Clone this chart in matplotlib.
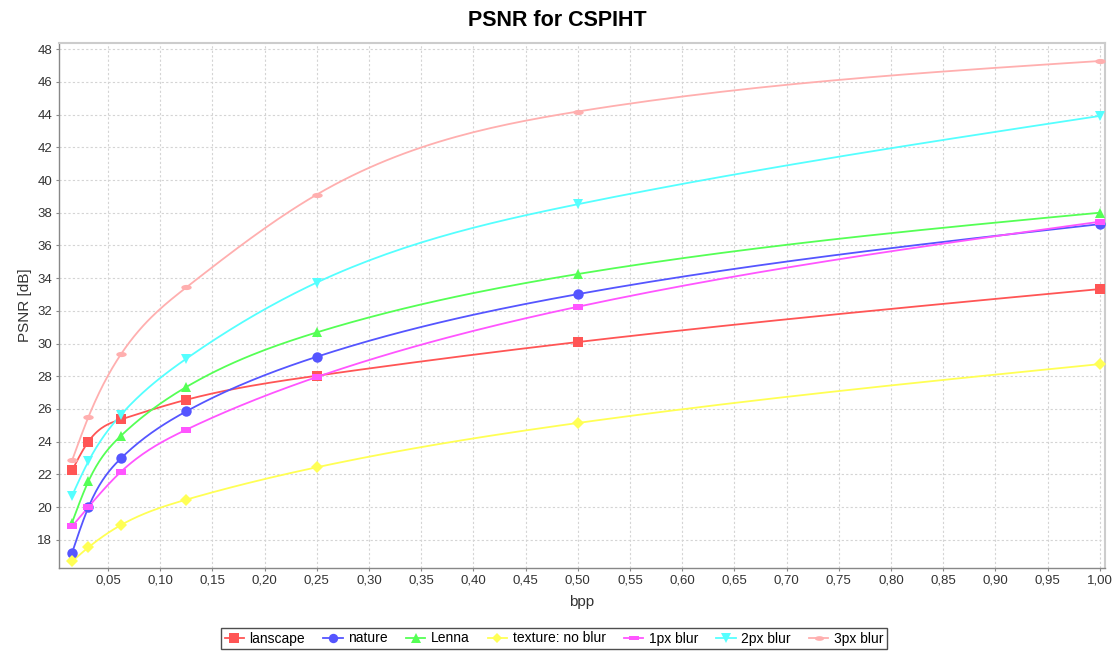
import numpy as np
import matplotlib
matplotlib.use("Agg")
import matplotlib.pyplot as plt
from matplotlib.path import Path

plt.rcParams['font.family'] = ['Liberation Sans', 'DejaVu Sans']

# ---------------- data ----------------
bpp = [0.015625, 0.03125, 0.0625, 0.125, 0.25, 0.5, 1.0]

series_names = ["lanscape", "nature", "Lenna", "texture: no blur", "1px blur", "2px blur", "3px blur"]
lanscape = [22.24, 24.00, 25.36, 26.56, 28.03, 30.09, 33.33]
nature = [17.20, 19.98, 22.98, 25.85, 29.19, 33.02, 37.30]
lenna = [19.05, 21.57, 24.36, 27.34, 30.68, 34.25, 38.00]
texture = [16.68, 17.53, 18.90, 20.45, 22.43, 25.14, 28.74]
blur1 = [18.82, 20.00, 22.16, 24.73, 27.95, 32.25, 37.45]
blur2 = [20.70, 22.79, 25.65, 29.07, 33.73, 38.52, 43.92]
blur3 = [22.85, 25.50, 29.35, 33.43, 39.11, 44.19, 47.28]
series_values = [lanscape, nature, lenna, texture, blur1, blur2, blur3]

x_ticks = [0.05, 0.10, 0.15, 0.20, 0.25, 0.30, 0.35, 0.40, 0.45, 0.50,
           0.55, 0.60, 0.65, 0.70, 0.75, 0.80, 0.85, 0.90, 0.95, 1.00]
x_tick_labels = ["0,05", "0,10", "0,15", "0,20", "0,25", "0,30", "0,35", "0,40", "0,45", "0,50",
                 "0,55", "0,60", "0,65", "0,70", "0,75", "0,80", "0,85", "0,90", "0,95", "1,00"]
y_ticks = [18, 20, 22, 24, 26, 28, 30, 32, 34, 36, 38, 40, 42, 44, 46, 48]
y_tick_labels = [str(v) for v in y_ticks]

colors = ["#FF5555", "#5555FF", "#55FF55", "#FFFF55", "#FF55FF", "#55FFFF", "#FFAFAF"]

# marker shapes (JFreeChart default shape sequence)
rect_marker = Path([(-1, -0.5), (1, -0.5), (1, 0.5), (-1, 0.5), (-1, -0.5)],
                   [Path.MOVETO, Path.LINETO, Path.LINETO, Path.LINETO, Path.CLOSEPOLY])
_t = np.linspace(0, 2 * np.pi, 40)
ellipse_marker = Path(np.column_stack([np.cos(_t), 0.5 * np.sin(_t)]))
markers = ["s", "o", "^", "D", rect_marker, "v", ellipse_marker]
marker_sizes = [7.5, 7.5, 7.5, 6.0, 7.5, 7.5, 7.5]


def natural_spline(x, y, per_seg=30):
    x = np.asarray(x, float)
    y = np.asarray(y, float)
    n = len(x)
    h = np.diff(x)
    A = np.zeros((n, n))
    b = np.zeros(n)
    A[0, 0] = 1
    A[-1, -1] = 1
    for i in range(1, n - 1):
        A[i, i - 1] = h[i - 1]
        A[i, i] = 2 * (h[i - 1] + h[i])
        A[i, i + 1] = h[i]
        b[i] = 6 * ((y[i + 1] - y[i]) / h[i] - (y[i] - y[i - 1]) / h[i - 1])
    M = np.linalg.solve(A, b)
    xs, ys = [], []
    for i in range(n - 1):
        t = np.linspace(x[i], x[i + 1], per_seg, endpoint=(i == n - 2))
        a = x[i + 1] - t
        c = t - x[i]
        s = (M[i] * a ** 3 + M[i + 1] * c ** 3) / (6 * h[i]) \
            + (y[i] / h[i] - M[i] * h[i] / 6) * a \
            + (y[i + 1] / h[i] - M[i + 1] * h[i] / 6) * c
        xs.append(t)
        ys.append(s)
    return np.concatenate(xs), np.concatenate(ys)


fig = plt.figure(figsize=(11.15, 6.52), dpi=100)
ax = fig.add_axes([59 / 1115, 84.5 / 652, (1105 - 59) / 1115, (609.3 - 84.5) / 652])

handles = []
for name, vals, col, mk, ms in zip(series_names, series_values, colors, markers, marker_sizes):
    sx, sy = natural_spline(bpp, vals)
    ax.plot(sx, sy, color=col, lw=1.3, zorder=3)
    ax.plot(bpp, vals, linestyle="none", marker=mk, ms=ms, color=col,
            markeredgewidth=0, zorder=4)
    h, = ax.plot([], [], color=col, lw=1.3, marker=mk, ms=ms * 0.9, markeredgewidth=0)
    handles.append(h)

ax.set_xlim(0.0031, 1.005)
ax.set_ylim(16.3, 48.4)
ax.set_xticks(x_ticks)
ax.set_xticklabels(x_tick_labels)
ax.set_yticks(y_ticks)
ax.set_yticklabels(y_tick_labels)
ax.tick_params(axis="both", labelsize=9.5, length=2, width=0.8, color="#888888",
               labelcolor="#333333", pad=3)
ax.grid(True, color="#D4D4D4", linestyle=(0, (2, 2)), linewidth=0.8)
ax.set_axisbelow(True)
for side in ["left", "bottom"]:
    ax.spines[side].set_color("#888888")
    ax.spines[side].set_linewidth(1.0)
for side in ["top", "right"]:
    ax.spines[side].set_color("#CCCCCC")
    ax.spines[side].set_linewidth(1.5)

ax.set_xlabel("bpp", fontsize=11, color="#333333", labelpad=6)
ax.set_ylabel("PSNR [dB]", fontsize=11, color="#333333", labelpad=4)

fig.text(557 / 1115, 1 - 21 / 652, "PSNR for CSPIHT", ha="center", va="center",
         fontsize=15.5, fontweight="bold")

leg = fig.legend(handles=handles, labels=series_names, loc="center",
                 bbox_to_anchor=(554 / 1115, 13.5 / 652), ncol=7, fontsize=10,
                 frameon=True, fancybox=False, handlelength=1.4, handletextpad=0.4,
                 columnspacing=1.3, borderpad=0.25, borderaxespad=0)
leg.get_frame().set_edgecolor("#222222")
leg.get_frame().set_linewidth(1.0)

fig.savefig("out.png", dpi=100)
